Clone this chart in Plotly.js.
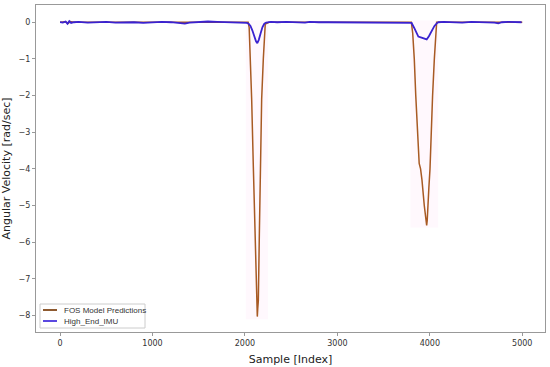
<!DOCTYPE html>
<html>
<head>
<meta charset="utf-8">
<script src="https://cdn.plot.ly/plotly-3.0.1.min.js"></script>
<style>html,body{margin:0;padding:0;background:#fff;}#chart{width:550px;height:367px;}</style>
</head>
<body>
<div id="chart"></div>
<script>
// FOS Model Predictions (orange/brown)
const fosX = [0, 60, 90, 110, 150, 300, 600, 900, 1200, 1500, 1650, 1700, 1900, 2000, 2035, 2046, 2058, 2073, 2091, 2109, 2120, 2127, 2134, 2139, 2145, 2156, 2167, 2181, 2199, 2210, 2220, 2260, 2500, 2800, 3100, 3400, 3700, 3800, 3815, 3832, 3848, 3865, 3875, 3885, 3900, 3915, 3940, 3955, 3966, 3972, 3977, 3990, 4002, 4013, 4030, 4049, 4062, 4074, 4100, 4300, 4600, 4800, 5000];
const fosY = [0.0, 0.01, -0.03, 0.02, 0.0, 0.0, 0.0, 0.0, 0.0, 0.0, 0.02, 0.0, 0.0, 0.0, 0.0, -0.15, -0.9, -2.1, -3.95, -5.77, -6.9, -7.6, -8.03, -7.8, -7.6, -5.77, -3.95, -2.1, -1.0, -0.35, -0.05, 0.0, 0.0, 0.0, 0.0, 0.0, 0.0, 0.0, -0.3, -1.0, -2.0, -3.0, -3.6, -3.85, -4.0, -4.3, -5.0, -5.3, -5.54, -5.4, -5.0, -4.5, -4.0, -3.0, -2.0, -1.0, -0.4, 0.0, 0.0, 0.0, 0.0, 0.0, 0.0];

// High_End_IMU (blue)
const imuX = [0, 30, 60, 80, 100, 120, 150, 200, 300, 400, 500, 600, 700, 800, 900, 1000, 1100, 1200, 1300, 1350, 1400, 1500, 1600, 1700, 1800, 1900, 2000, 2020, 2040, 2060, 2080, 2100, 2120, 2134, 2150, 2170, 2190, 2210, 2230, 2280, 2350, 2450, 2550, 2650, 2700, 2750, 2800, 2900, 3000, 3100, 3200, 3300, 3400, 3500, 3600, 3700, 3780, 3803, 3830, 3855, 3876, 3910, 3948, 3966, 3990, 4020, 4050, 4075, 4092, 4150, 4250, 4350, 4450, 4550, 4650, 4700, 4741, 4780, 4850, 4950, 4993];
const imuY = [0.0, -0.01, 0.02, -0.04, 0.03, -0.02, 0.0, 0.01, -0.01, 0.0, 0.01, -0.01, 0.0, 0.0, -0.02, 0.0, 0.01, 0.0, -0.02, -0.04, -0.01, 0.01, 0.02, 0.01, 0.0, 0.0, -0.01, -0.02, -0.04, -0.1, -0.22, -0.38, -0.52, -0.57, -0.48, -0.3, -0.13, -0.04, -0.01, 0.01, 0.0, 0.01, 0.0, -0.01, 0.01, 0.0, 0.0, 0.0, 0.0, 0.0, 0.0, 0.0, 0.0, 0.0, 0.0, 0.0, 0.0, -0.02, -0.15, -0.3, -0.39, -0.42, -0.44, -0.47, -0.38, -0.22, -0.1, -0.03, 0.0, 0.01, 0.0, -0.01, 0.01, 0.0, 0.0, -0.01, -0.03, 0.0, 0.01, 0.0, 0.0];

// faint shaded regions around the two dips
const bandX = [2010, 2250, 2250, 2010, 2010, null, 3790, 4090, 4090, 3790, 3790];
const bandY = [0.05, 0.05, -8.1, -8.1, 0.05, null, 0.05, 0.05, -5.6, -5.6, 0.05];

const xTicks = [0, 1000, 2000, 3000, 4000, 5000];
const yTicks = [0, -1, -2, -3, -4, -5, -6, -7, -8];
const seriesNames = ['FOS Model Predictions', 'High_End_IMU'];
const seriesColors = ['#a85a24', '#3a22d0'];

const traces = [
  {x: bandX, y: bandY, mode: 'lines', fill: 'toself', fillcolor: 'rgba(255,160,225,0.07)', line: {width: 0}, hoverinfo: 'skip', showlegend: false},
  {x: fosX, y: fosY, mode: 'lines', name: seriesNames[0], line: {color: seriesColors[0], width: 1.5}, showlegend: false},
  {x: imuX, y: imuY, mode: 'lines', name: seriesNames[1], line: {color: seriesColors[1], width: 1.8}, showlegend: false}
];

// compact matplotlib-style legend box (paper coordinates)
const px = v => (v - 36) / 509;
const py = v => (332 - v) / 327;
const legendRows = [310, 321];
const shapes = [
  {type: 'rect', xref: 'paper', yref: 'paper', x0: px(40), x1: px(145), y0: py(328), y1: py(304),
   line: {color: '#cccccc', width: 1}, fillcolor: 'rgba(255,255,255,0.9)', layer: 'above'}
];
const annotations = [];
seriesNames.forEach((n, i) => {
  shapes.push({type: 'line', xref: 'paper', yref: 'paper', x0: px(43), x1: px(57), y0: py(legendRows[i]), y1: py(legendRows[i]),
    line: {color: i === 0 ? '#8e5a30' : '#5a48e0', width: 2}, layer: 'above'});
  annotations.push({xref: 'paper', yref: 'paper', x: px(62), y: py(legendRows[i]), xanchor: 'left', yanchor: 'middle',
    text: n, showarrow: false, font: {family: 'Liberation Sans, Arial, sans-serif', size: 8, color: '#333'}});
});

const layout = {
  width: 550, height: 367,
  margin: {l: 36, r: 5, t: 5, b: 35},
  paper_bgcolor: '#fff', plot_bgcolor: '#fff',
  font: {family: 'DejaVu Sans, sans-serif', color: '#333', size: 8},
  showlegend: false,
  shapes: shapes,
  annotations: annotations,
  xaxis: {
    range: [-260, 5246], tickvals: xTicks, ticktext: xTicks.map(String),
    showgrid: false, zeroline: false, showline: true, mirror: true, linecolor: '#999', linewidth: 1,
    ticks: 'outside', ticklen: 3, tickcolor: '#999', tickfont: {size: 8, color: '#333'},
    title: {text: 'Sample [Index]', font: {size: 11, color: '#222'}, standoff: 8}
  },
  yaxis: {
    range: [-8.45, 0.47], tickvals: yTicks, ticktext: yTicks.map(v => v === 0 ? '0' : '\u2212' + Math.abs(v)),
    showgrid: false, zeroline: false, showline: true, mirror: true, linecolor: '#999', linewidth: 1,
    ticks: 'outside', ticklen: 3, tickcolor: '#999', tickfont: {size: 8, color: '#333'},
    title: {text: 'Angular Velocity [rad/sec]', font: {size: 11, color: '#222'}, standoff: 6}
  }
};

Plotly.newPlot('chart', traces, layout, {displayModeBar: false, staticPlot: true});
</script>
</body>
</html>
